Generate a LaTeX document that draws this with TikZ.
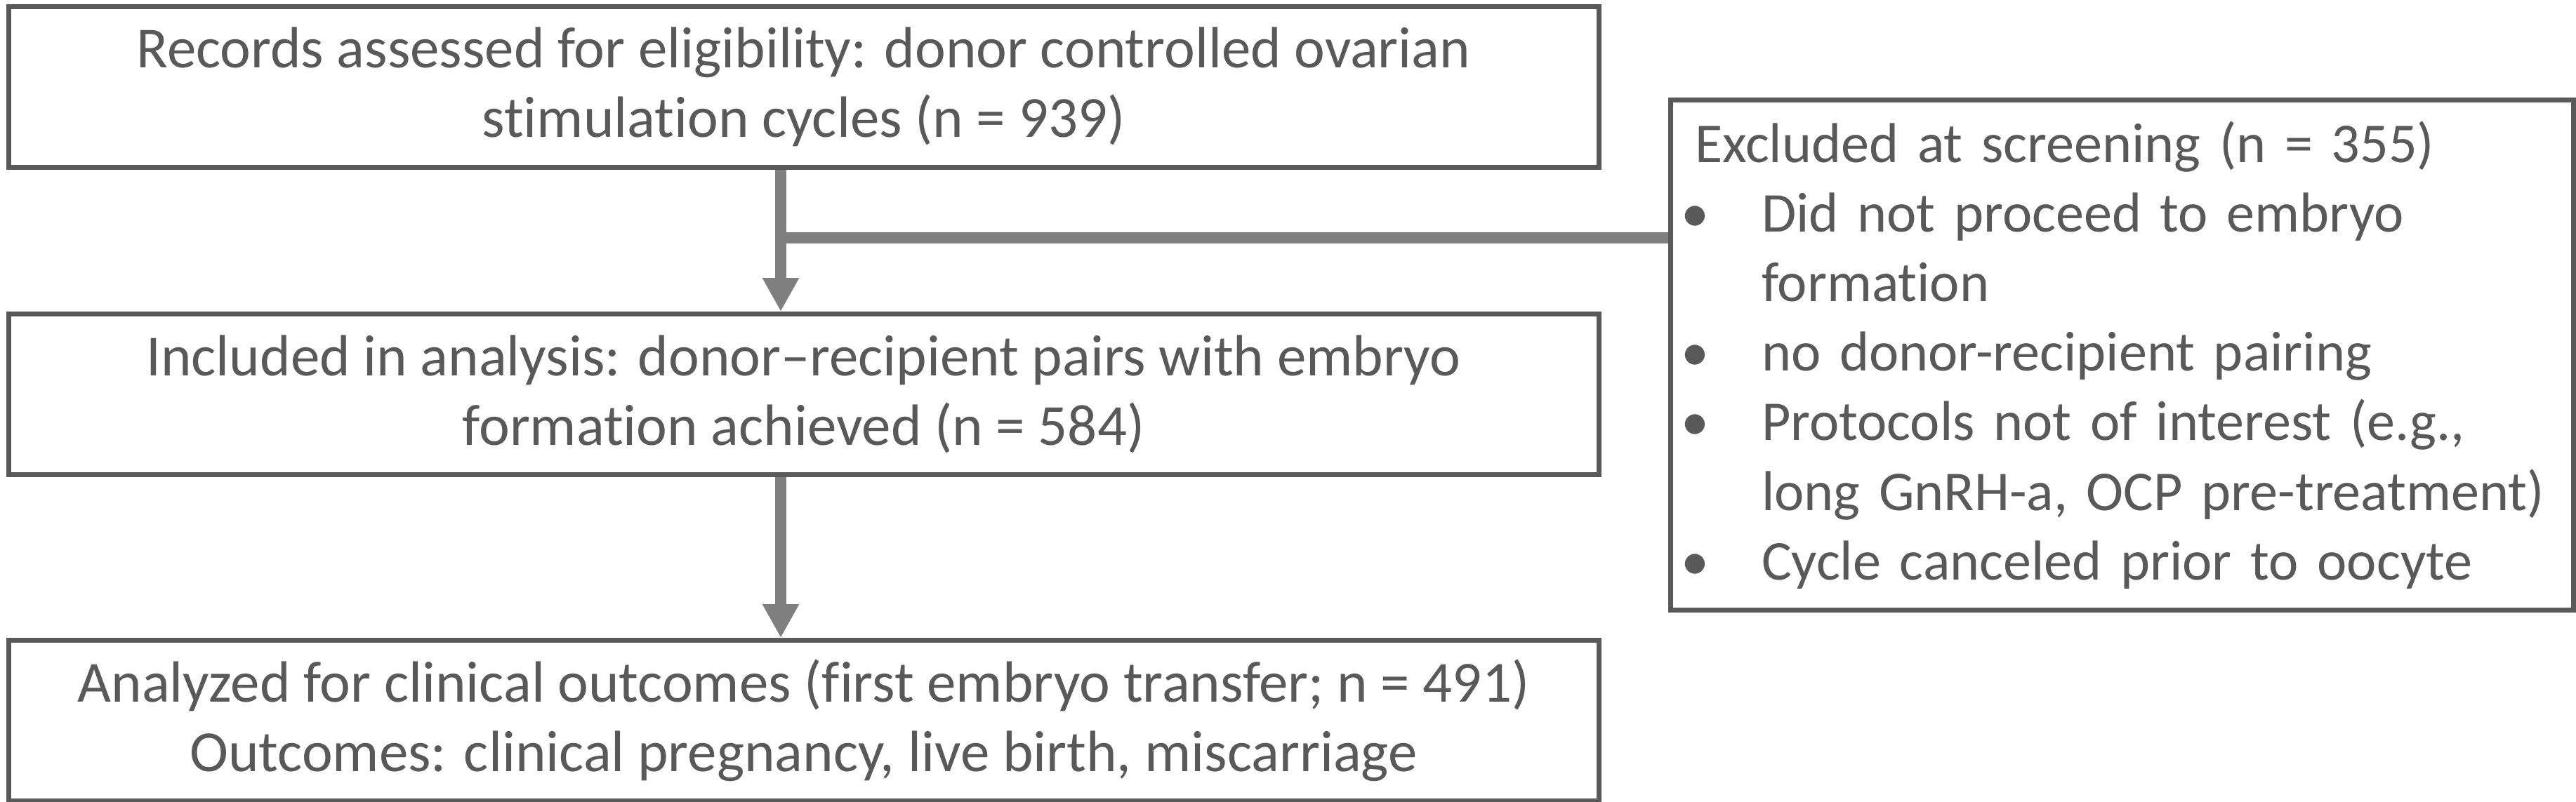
\documentclass[tikz,border=0pt]{standalone}
\usepackage{fontspec}
\setmainfont{Carlito}[Ligatures={TeX,NoCommon}]
\usetikzlibrary{arrows.meta,positioning,calc}
\definecolor{boxgray}{HTML}{595959}
\definecolor{arrgray}{HTML}{7F7F7F}
\tikzset{
  blk/.style={draw=boxgray,line width=0.07cm,rectangle,minimum width=22.65cm,minimum height=2.29cm,align=center,text=boxgray,inner sep=0pt},
  exblk/.style={draw=boxgray,line width=0.07cm,rectangle,text width=12.16cm,inner xsep=0.35cm,inner ysep=0pt,minimum height=7.27cm,align=left,text=boxgray,font=\fontsize{22.8}{28.2}\selectfont},
  arr/.style={-{Triangle[width=0.49cm,length=0.48cm]},line width=0.16cm,draw=arrgray},
  lnk/.style={line width=0.16cm,draw=arrgray}
}
\newcommand{\itm}[1]{\mbox{\makebox[0.95cm][l]{\hspace*{-0.2cm}\textbullet}#1}}
\newcommand{\cnt}[1]{\mbox{\hspace*{0.95cm}#1}}

\begin{document}
\begin{tikzpicture}[font=\fontsize{23.6}{28.2}\selectfont]
  \useasboundingbox (0,0) rectangle (36.69,-11.42);

  \node[blk] (rec) at (11.445,-1.24) {Records assessed for eligibility: donor controlled ovarian\\stimulation cycles (n = 939)};
  \node[blk, below=2.02cm of rec] (incl) {Included in analysis: donor–recipient pairs with embryo\\formation achieved (n = 584)};
  \node[blk, below=2.29cm of incl] (anl) {Analyzed for clinical outcomes (first embryo transfer; n = 491)\\Outcomes: clinical pregnancy, live birth, miscarriage};
  \node[exblk, below right=1.33cm and 0.95cm of rec.north east] (excl) {\mbox{Excluded at screening (n = 355)}\\
    \itm{Did not proceed to embryo}\\
    \cnt{formation}\\
    \itm{no donor-recipient pairing}\\
    \itm{Protocols not of interest (e.g.,}\\
    \cnt{long GnRH-a, OCP pre-treatment)}\\
    \itm{Cycle canceled prior to oocyte}};

  \coordinate (jn) at ($(rec.south)+(-0.325,-0.97)$);

  \draw[arr] ([xshift=-0.325cm]rec.south) -- ([xshift=-0.325cm]incl.north);
  \draw[lnk] (jn) -- (jn -| excl.west);
  \draw[arr] ([xshift=-0.325cm]incl.south) -- ([xshift=-0.325cm]anl.north);
\end{tikzpicture}
\end{document}
